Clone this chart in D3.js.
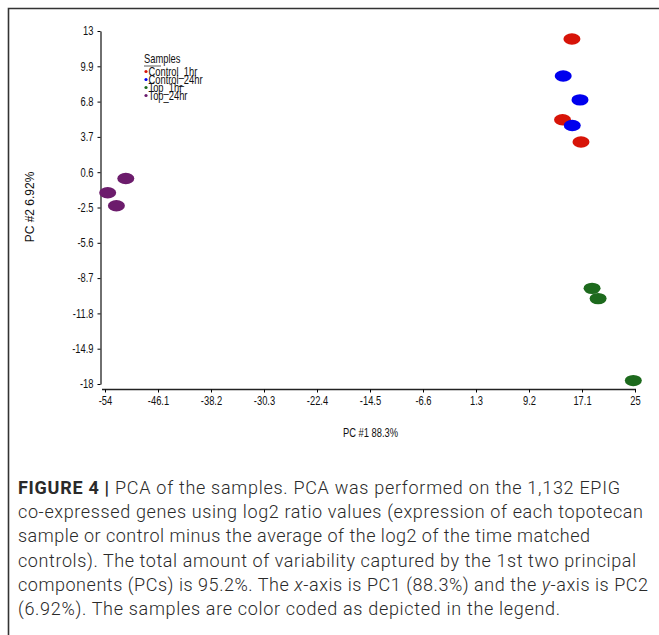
<!DOCTYPE html>
<html>
<head>
<meta charset="utf-8">
<script src="https://cdn.jsdelivr.net/npm/d3@7"></script>
<style>
  body { margin: 0; background: #fff; }
  svg { display: block; }
  .tick text { font-family: "Liberation Sans", Arial, sans-serif; font-size: 12px; fill: #111; }
</style>
</head>
<body>
<script>
// sample groups and PCA scores
var groups = ["Control_1hr", "Control_24hr", "Top_1hr", "Top_24hr"];
var groupColors = ["#d71408", "#0000ee", "#1d6a1d", "#6c1c6c"];

var pc1 = {
    "Control_1hr":  [15.6, 14.2, 16.95],
    "Control_24hr": [14.3, 16.8, 15.65],
    "Top_1hr":      [18.6, 19.5, 24.75],
    "Top_24hr":     [-50.9, -53.6, -52.3]
};
var pc2 = {
    "Control_1hr":  [12.3, 5.2, 3.25],
    "Control_24hr": [9.05, 6.95, 4.7],
    "Top_1hr":      [-9.6, -10.5, -17.7],
    "Top_24hr":     [0.05, -1.2, -2.35]
};

var xTicks = [-54, -46.1, -38.2, -30.3, -22.4, -14.5, -6.6, 1.3, 9.2, 17.1, 25];
var yTicks = [13, 9.9, 6.8, 3.7, 0.6, -2.5, -5.6, -8.7, -11.8, -14.9, -18];

var captionLines = [
    [["FIGURE 4 | ", "b"], ["PCA of the samples. PCA was performed on the 1,132 EPIG", ""]],
    [["co-expressed genes using log2 ratio values (expression of each topotecan", ""]],
    [["sample or control minus the average of the log2 of the time matched", ""]],
    [["controls). The total amount of variability captured by the 1st two principal", ""]],
    [["components (PCs) is 95.2%. The ", ""], ["x", "i"], ["-axis is PC1 (88.3%) and the ", ""], ["y", "i"], ["-axis is PC2", ""]],
    [["(6.92%). The samples are color coded as depicted in the legend.", ""]]
];
var captionWidths = [602, 625, 572, 618, 630, 542];

var width = 659,
    height = 635,
    squeeze = 0.78; // the chart font is a narrow face

var svg = d3.select("body").append("svg")
    .attr("width", width)
    .attr("height", height);

// frame (only top and left edges are visible)
svg.append("path")
    .attr("d", "M8.5," + height + "V8.5H" + width)
    .attr("fill", "none")
    .attr("stroke", "#333")
    .attr("stroke-width", 1.6);

var x = d3.scaleLinear().domain([-54, 25]).range([105, 635]);
var y = d3.scaleLinear().domain([-18, 13]).range([384, 31]);

var xAxis = svg.append("g")
    .attr("transform", "translate(0,389.5)")
    .call(d3.axisBottom(x).tickValues(xTicks).tickSize(3).tickSizeOuter(0).tickFormat(function (d) { return d; }));
xAxis.select(".domain").attr("d", "M102,0H636").attr("stroke", "#222").attr("stroke-width", 1.3);
xAxis.selectAll(".tick text").attr("dy", "0.6em").attr("y", 8)
    .attr("transform", "scale(" + squeeze + ",1)");

var yAxis = svg.append("g")
    .attr("transform", "translate(100.5,0)")
    .call(d3.axisLeft(y).tickValues(yTicks).tickSize(3).tickSizeOuter(0).tickFormat(function (d) { return d; }));
yAxis.select(".domain").attr("stroke", "#222").attr("stroke-width", 1.3);
yAxis.selectAll(".tick text").attr("x", -7 / squeeze)
    .attr("transform", "scale(" + squeeze + ",1)");

// points
groups.forEach(function (g, i) {
    var pts = pc1[g].map(function (v, j) { return [v, pc2[g][j]]; });
    svg.append("g").selectAll("ellipse")
        .data(pts)
        .enter().append("ellipse")
        .attr("cx", function (d) { return x(d[0]); })
        .attr("cy", function (d) { return y(d[1]); })
        .attr("rx", 8.5)
        .attr("ry", 5.7)
        .attr("fill", groupColors[i]);
});

function narrowText(px, py, txt) {
    return svg.append("text")
        .attr("transform", "translate(" + px + "," + py + ") scale(" + squeeze + ",1)")
        .style("font-family", "Liberation Sans, Arial, sans-serif")
        .style("font-size", "12px")
        .attr("fill", "#111")
        .text(txt);
}

// axis titles
svg.append("text")
    .attr("transform", "translate(34,207) rotate(-90)")
    .attr("text-anchor", "middle")
    .style("font-family", "Liberation Sans, Arial, sans-serif")
    .style("font-size", "12px")
    .attr("fill", "#111")
    .text("PC #2 6.92%");

narrowText(343, 437, "PC #1 88.3%");

// legend
narrowText(144, 63, "Samples");
svg.append("line").attr("x1", 144).attr("x2", 161).attr("y1", 66).attr("y2", 66)
    .attr("stroke", "#333").attr("stroke-width", 0.8);
groups.forEach(function (g, i) {
    svg.append("circle").attr("cx", 146).attr("cy", 71.5 + i * 8).attr("r", 1.6).attr("fill", groupColors[i]);
    narrowText(148.5, 75.5 + i * 8, g);
});

// caption
var cap = svg.append("g")
    .style("font-family", "Roboto, Liberation Sans, Arial, sans-serif")
    .style("font-size", "18px")
    .style("font-weight", 300)
    .attr("fill", "#2a2a2a");
captionLines.forEach(function (line, i) {
    var t = cap.append("text").attr("x", 18).attr("y", 494 + i * 24.2)
        .attr("textLength", captionWidths[i])
        .attr("lengthAdjust", "spacing");
    line.forEach(function (seg) {
        var s = t.append("tspan").text(seg[0]);
        if (seg[1] === "b") s.style("font-weight", 700);
        if (seg[1] === "i") s.style("font-style", "italic");
    });
});
</script>
</body>
</html>
